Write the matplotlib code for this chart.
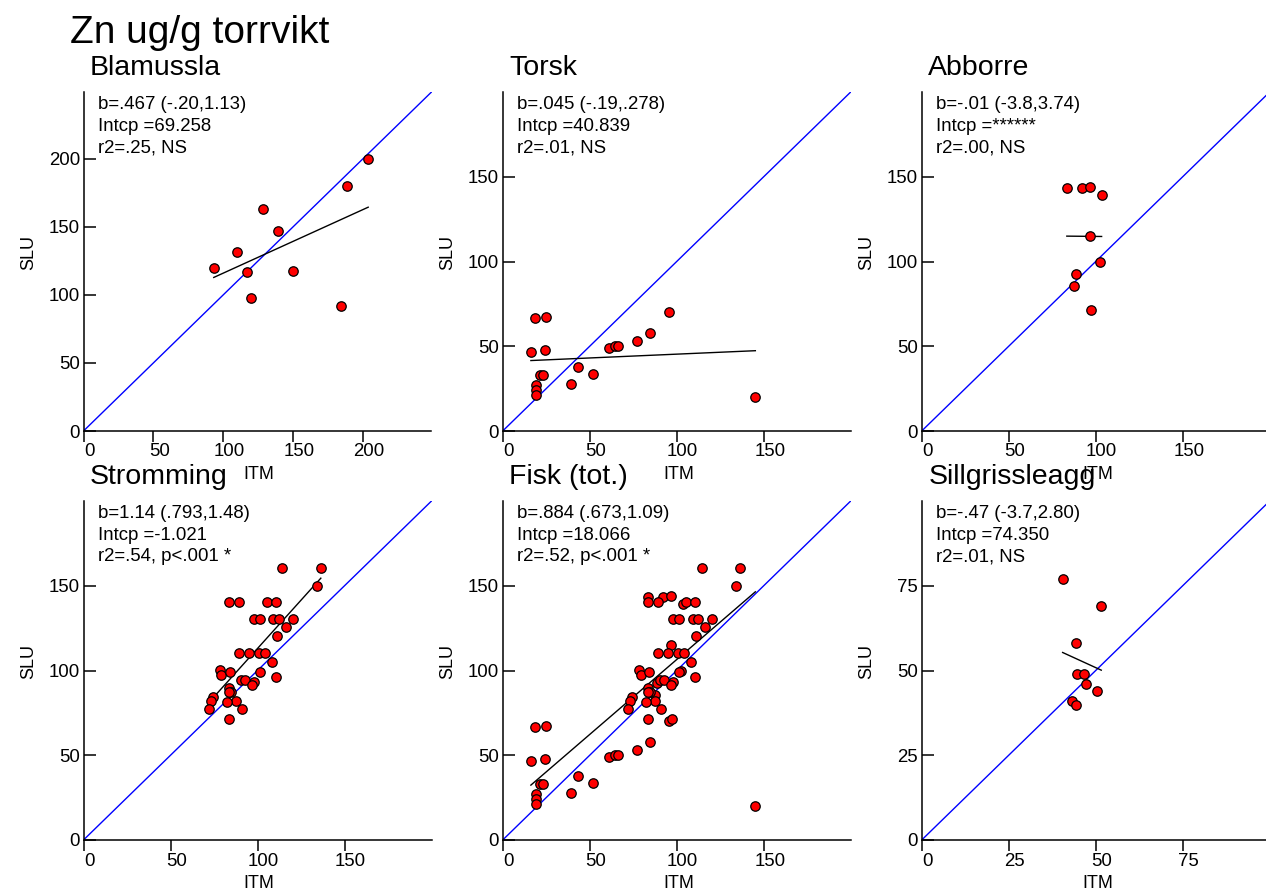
import numpy as np
import matplotlib
matplotlib.use('Agg')
import matplotlib.pyplot as plt
import matplotlib.transforms as mtransforms

plt.rcParams['font.family'] = ['Liberation Sans', 'DejaVu Sans']

# data (ITM on x, SLU on y)
blamussla_itm = [93.2, 110.1, 117.3, 120.1, 128.7, 138.9, 150.1, 183.9, 188.5, 203.7]
blamussla_slu = [119.9, 131.4, 116.7, 97.5, 162.7, 147.1, 117.4, 91.7, 179.7, 200.0]

torsk_itm = [16.2, 18.5, 25.0, 24.4, 19.0, 19.0, 19.0, 21.7, 23.1, 39.4,
             43.1, 51.9, 61.2, 64.4, 66.2, 76.9, 84.4, 95.8, 145.2]
torsk_slu = [46.7, 66.5, 67.3, 48.0, 27.4, 24.0, 21.5, 33.1, 33.1, 28.0,
             37.8, 33.9, 49.0, 50.2, 50.0, 53.0, 58.1, 70.1, 19.9]

abborre_itm = [83.4, 92.2, 96.9, 103.4, 96.9, 102.5, 88.7, 87.6, 97.1]
abborre_slu = [143.1, 143.1, 144.1, 139.0, 114.8, 99.8, 92.7, 85.6, 71.3]

stromming_itm = [114.3, 136.4, 134.2, 83.7, 89.5, 105.2, 110.4, 97.8, 101.4, 109.1,
                 112.3, 120.2, 116.4, 111.2, 89.1, 94.9, 101.0, 104.1, 108.1, 78.4,
                 79.3, 84.3, 101.4, 110.4, 90.5, 92.6, 98.1, 96.8, 83.7, 84.7,
                 83.4, 74.5, 73.4, 87.4, 82.6, 72.2, 91.0, 83.7]
stromming_slu = [160.2, 160.2, 150.0, 140.2, 140.2, 140.2, 140.2, 130.1, 130.1, 130.1,
                 130.1, 130.1, 125.8, 120.3, 110.1, 110.1, 110.1, 110.1, 105.2, 100.3,
                 97.3, 99.1, 98.9, 96.1, 94.2, 94.2, 93.0, 91.2, 89.4, 87.1,
                 87.1, 84.1, 82.2, 82.0, 81.2, 77.1, 77.1, 71.4]

# fisk (tot.) = torsk + abborre + stromming
fisk_itm = torsk_itm + abborre_itm + stromming_itm
fisk_slu = torsk_slu + abborre_slu + stromming_slu

sillgrissla_itm = [40.5, 51.6, 44.2, 44.5, 46.7, 47.3, 50.3, 43.3, 44.3]
sillgrissla_slu = [77.0, 69.1, 58.0, 49.0, 49.0, 46.0, 44.1, 41.1, 39.9]

titles = ['Blamussla', 'Torsk', 'Abborre', 'Stromming', 'Fisk (tot.)', 'Sillgrissleagg']
itm = [blamussla_itm, torsk_itm, abborre_itm, stromming_itm, fisk_itm, sillgrissla_itm]
slu = [blamussla_slu, torsk_slu, abborre_slu, stromming_slu, fisk_slu, sillgrissla_slu]

stats = [
    'b=.467 (-.20,1.13)\nIntcp =69.258\nr2=.25, NS',
    'b=.045 (-.19,.278)\nIntcp =40.839\nr2=.01, NS',
    'b=-.01 (-3.8,3.74)\nIntcp =******\nr2=.00, NS',
    'b=1.14 (.793,1.48)\nIntcp =-1.021\nr2=.54, p<.001 *',
    'b=.884 (.673,1.09)\nIntcp =18.066\nr2=.52, p<.001 *',
    'b=-.47 (-3.7,2.80)\nIntcp =74.350\nr2=.01, NS',
]
slopes = [0.467, 0.045, -0.01, 1.14, 0.884, -0.47]
intercepts = [69.258, 40.839, 115.8, -1.021, 18.066, 74.350]
axis_max = [249, 200, 200, 200, 200, 100]
ticks = [[0, 50, 100, 150, 200], [0, 50, 100, 150], [0, 50, 100, 150],
         [0, 50, 100, 150], [0, 50, 100, 150], [0, 25, 50, 75]]

W, H = 1266, 890
fig = plt.figure(figsize=(W / 100, H / 100), dpi=100)

lefts = [83.5, 502.7, 921.7]
tops = [92, 501]
aw, ah = 348, 339

fig.text(70 / W, 1 - 43 / H, 'Zn ug/g torrvikt', fontsize=28, va='baseline', ha='left')

shift = mtransforms.ScaledTranslation(6 / 100, 0, fig.dpi_scale_trans)

for i in range(6):
    r, c = divmod(i, 3)
    ax = fig.add_axes([lefts[c] / W, 1 - (tops[r] + ah) / H, aw / W, ah / H])
    m = axis_max[i]
    x = np.array(itm[i])
    y = np.array(slu[i])

    ax.plot([0, m], [0, m], color='#0000ff', lw=1.0, zorder=2)
    xr = np.array([x.min(), x.max()])
    ax.plot(xr, intercepts[i] + slopes[i] * xr, color='black', lw=1.0, zorder=2)
    ax.plot(x, y, 'o', ms=6.8, mfc='#ff0000', mec='black', mew=0.9, zorder=3)

    ax.set_xlim(0, m)
    ax.set_ylim(0, m)
    ax.set_xticks(ticks[i])
    ax.set_yticks(ticks[i])
    for s in ['top', 'right']:
        ax.spines[s].set_visible(False)
    for s in ['left', 'bottom']:
        ax.spines[s].set_linewidth(1.1)
    ax.tick_params(axis='x', direction='out', length=8, width=1.1, pad=1, labelsize=13.4)
    ax.tick_params(axis='y', direction='in', length=8.5, width=1.1, pad=2.5, labelsize=13.4)
    for lab in ax.get_xticklabels():
        lab.set_transform(lab.get_transform() + shift)

    ax.set_xlabel('ITM', fontsize=13)
    ax.xaxis.set_label_coords(0.505, -0.104)
    ax.set_ylabel('SLU', fontsize=13)
    ax.yaxis.set_label_coords(-0.134, 0.526)

    ax.annotate(titles[i], xy=(0, 1), xycoords='axes fraction', xytext=(4.7, 12.2),
                textcoords='offset points', fontsize=20.5, ha='left', va='baseline')
    ax.annotate(stats[i], xy=(0, 1), xycoords='axes fraction', xytext=(10.4, -3),
                textcoords='offset points', fontsize=13.4, ha='left', va='top',
                linespacing=1.35)

fig.savefig('out.png', dpi=100)
